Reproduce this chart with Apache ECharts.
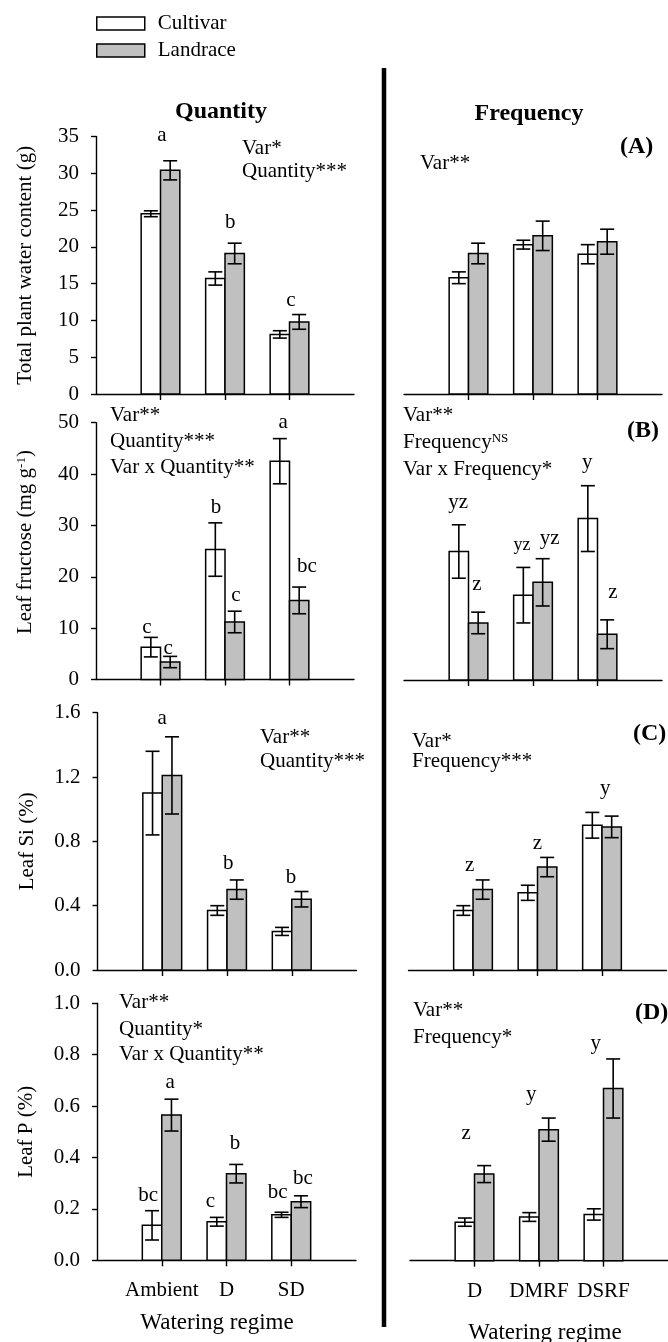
<!DOCTYPE html>
<html>
<head>
<meta charset="utf-8">
<title>Water regime effects on cultivar and landrace</title>
<script src="https://cdn.jsdelivr.net/npm/echarts@6/dist/echarts.min.js"></script>
<style>
  html, body { margin: 0; padding: 0; background: #fff; }
  #chart { width: 668px; height: 1342px; }
</style>
</head>
<body>
<div id="chart"></div>
<script>
// ---- categories ----
const QTY_REGIMES = ['Ambient', 'D', 'SD'];
const FREQ_REGIMES = ['D', 'DMRF', 'DSRF'];

// ---- (A) total plant water content, g ----
const waterQtyCultivar   = [24.5, 15.7, 8.1];
const waterQtyCultivarSE = [0.4, 0.9, 0.5];
const waterQtyLandrace   = [30.4, 19.1, 9.8];
const waterQtyLandraceSE = [1.3, 1.4, 1.0];
const waterFreqCultivar   = [15.8, 20.3, 19.0];
const waterFreqCultivarSE = [0.8, 0.6, 1.3];
const waterFreqLandrace   = [19.1, 21.5, 20.7];
const waterFreqLandraceSE = [1.4, 2.0, 1.7];

// ---- (B) leaf fructose, mg g-1 ----
const fruQtyCultivar   = [6.3, 25.3, 42.5];
const fruQtyCultivarSE = [1.9, 5.2, 4.4];
const fruQtyLandrace   = [3.4, 11.2, 15.4];
const fruQtyLandraceSE = [1.1, 2.1, 2.6];
const fruFreqCultivar   = [25.0, 16.5, 31.4];
const fruFreqCultivarSE = [5.2, 5.4, 6.4];
const fruFreqLandrace   = [11.1, 19.0, 8.9];
const fruFreqLandraceSE = [2.1, 4.6, 2.8];

// ---- (C) leaf Si, % ----
const siQtyCultivar   = [1.10, 0.37, 0.24];
const siQtyCultivarSE = [0.26, 0.03, 0.025];
const siQtyLandrace   = [1.21, 0.50, 0.44];
const siQtyLandraceSE = [0.24, 0.06, 0.048];
const siFreqCultivar   = [0.37, 0.48, 0.90];
const siFreqCultivarSE = [0.03, 0.047, 0.08];
const siFreqLandrace   = [0.50, 0.64, 0.89];
const siFreqLandraceSE = [0.06, 0.06, 0.067];

// ---- (D) leaf P, % ----
const pQtyCultivar   = [0.136, 0.150, 0.177];
const pQtyCultivarSE = [0.057, 0.017, 0.010];
const pQtyLandrace   = [0.565, 0.337, 0.228];
const pQtyLandraceSE = [0.062, 0.036, 0.023];
const pFreqCultivar   = [0.150, 0.170, 0.180];
const pFreqCultivarSE = [0.016, 0.017, 0.022];
const pFreqLandrace   = [0.337, 0.510, 0.670];
const pFreqLandraceSE = [0.033, 0.045, 0.115];

// ---- mean-separation letters ----
const waterQtyLetters = ['a', 'b', 'c'];
const fruQtyLetters   = ['c', 'c', 'b', 'c', 'a', 'bc'];
const fruFreqLetters  = ['yz', 'z', 'yz', 'yz', 'y', 'z'];
const siQtyLetters    = ['a', 'b', 'b'];
const siFreqLetters   = ['z', 'z', 'y'];
const pQtyLetters     = ['bc', 'a', 'c', 'b', 'bc', 'bc'];
const pFreqLetters    = ['z', 'y', 'y'];

// where each letter sits, in axis units [x, y]
const LETTER_SPOTS = {
  waterQty: [[0.02, 35.1], [1.08, 23.3], [2.02, 12.7]],
  fruQty:   [[-0.21, 10.2], [0.12, 6.1], [0.86, 33.4], [1.17, 16.3], [1.90, 50.1], [2.27, 22.1]],
  fruFreq:  [[-0.16, 34.5], [0.13, 18.5], [0.83, 26.3], [1.26, 27.6], [1.84, 42.3], [2.24, 17.1]],
  siQty:    [[0.0, 1.567], [1.02, 0.665], [1.99, 0.578]],
  siFreq:   [[-0.05, 0.653], [1.0, 0.784], [2.05, 1.126]],
  pQty:     [[-0.21, 0.254], [0.13, 0.69], [0.75, 0.227], [1.13, 0.456], [1.79, 0.262], [2.18, 0.32]],
  pFreq:    [[-0.13, 0.495], [0.88, 0.647], [1.88, 0.846]]
};
const LETTER_SIZE_OVERRIDE = { fruFreq: { 2: 18 } };

const SERIF = 'Liberation Serif';
const FS = 21;
const BAR_W = 0.30;      // bar width in category units
const CAP_HALF = 7;      // error-bar cap half width, px
const GREY = '#c0c0c0';

// panel layout: [left, top, width, height] in px
const PANELS = [
  { box: [96, 136.5, 258, 257.5], yMax: 35, yStep: 5, digits: 0, yName: 'Total plant water content (g)',
    cats: QTY_REGIMES, c: waterQtyCultivar, cSE: waterQtyCultivarSE, l: waterQtyLandrace, lSE: waterQtyLandraceSE,
    letters: waterQtyLetters, spots: 'waterQty', left: true, last: false },
  { box: [404, 136.5, 258, 257.5], yMax: 35, yStep: 5, digits: 0,
    cats: FREQ_REGIMES, c: waterFreqCultivar, cSE: waterFreqCultivarSE, l: waterFreqLandrace, lSE: waterFreqLandraceSE,
    letters: [], spots: null, left: false, last: false },
  { box: [96, 422.7, 258, 256.8], yMax: 50, yStep: 10, digits: 0, yName: 'Leaf fructose (mg g{sup|-1})',
    cats: QTY_REGIMES, c: fruQtyCultivar, cSE: fruQtyCultivarSE, l: fruQtyLandrace, lSE: fruQtyLandraceSE,
    letters: fruQtyLetters, spots: 'fruQty', left: true, last: false, namePad: [0, 0, 0, 18] },
  { box: [404, 423, 258, 257], yMax: 50, yStep: 10, digits: 0,
    cats: FREQ_REGIMES, c: fruFreqCultivar, cSE: fruFreqCultivarSE, l: fruFreqLandrace, lSE: fruFreqLandraceSE,
    letters: fruFreqLetters, spots: 'fruFreq', left: false, last: false },
  { box: [97.5, 712.7, 259, 257.3], yMax: 1.6, yStep: 0.4, digits: 1, yName: 'Leaf Si (%)',
    cats: QTY_REGIMES, c: siQtyCultivar, cSE: siQtyCultivarSE, l: siQtyLandrace, lSE: siQtyLandraceSE,
    letters: siQtyLetters, spots: 'siQty', left: true, last: false },
  { box: [408.5, 712.7, 258, 257.3], yMax: 1.6, yStep: 0.4, digits: 1,
    cats: FREQ_REGIMES, c: siFreqCultivar, cSE: siFreqCultivarSE, l: siFreqLandrace, lSE: siFreqLandraceSE,
    letters: siFreqLetters, spots: 'siFreq', left: false, last: false },
  { box: [97, 1003.3, 259, 257], yMax: 1.0, yStep: 0.2, digits: 1, yName: 'Leaf P (%)',
    cats: QTY_REGIMES, c: pQtyCultivar, cSE: pQtyCultivarSE, l: pQtyLandrace, lSE: pQtyLandraceSE,
    letters: pQtyLetters, spots: 'pQty', left: true, last: true },
  { box: [410, 1003.7, 258, 257], yMax: 1.0, yStep: 0.2, digits: 1,
    cats: FREQ_REGIMES, c: pFreqCultivar, cSE: pFreqCultivarSE, l: pFreqLandrace, lSE: pFreqLandraceSE,
    letters: pFreqLetters, spots: 'pFreq', left: false, last: true }
];

// bar + error bar drawn through the panel's own axes
function barItem(side, fill) {
  return function (params, api) {
    const x = api.value(0), v = api.value(1), e = api.value(2);
    const x0 = side < 0 ? x - BAR_W : x;
    const x1 = side < 0 ? x : x + BAR_W;
    const pBase = api.coord([x0, 0]);
    const pTop = api.coord([x1, v]);
    const cx = (pBase[0] + pTop[0]) / 2;
    const yHi = api.coord([x, v + e])[1];
    const yLo = api.coord([x, v - e])[1];
    const ln = { stroke: '#000', lineWidth: 1.6 };
    return {
      type: 'group',
      children: [
        { type: 'rect', shape: { x: pBase[0], y: pTop[1], width: pTop[0] - pBase[0], height: pBase[1] - pTop[1] },
          style: { fill: fill, stroke: '#000', lineWidth: 1.5 } },
        { type: 'line', shape: { x1: cx, y1: yHi, x2: cx, y2: yLo }, style: ln },
        { type: 'line', shape: { x1: cx - CAP_HALF, y1: yHi, x2: cx + CAP_HALF, y2: yHi }, style: ln },
        { type: 'line', shape: { x1: cx - CAP_HALF, y1: yLo, x2: cx + CAP_HALF, y2: yLo }, style: ln }
      ]
    };
  };
}

function letterItem(texts, sizes) {
  return function (params, api) {
    const p = api.coord([api.value(0), api.value(1)]);
    const size = (sizes && sizes[params.dataIndex]) || FS;
    return {
      type: 'text', x: p[0], y: p[1],
      style: { text: texts[params.dataIndex], fontFamily: SERIF, fontSize: size, fill: '#000',
               align: 'center', verticalAlign: 'middle', textAlign: 'center', textVerticalAlign: 'middle' }
    };
  };
}

const grids = [], xAxes = [], yAxes = [], series = [];
PANELS.forEach((p, i) => {
  grids.push({ left: p.box[0], top: p.box[1], width: p.box[2], height: p.box[3],
               containLabel: false, outerBoundsMode: 'none' });
  xAxes.push({
    type: 'value', gridIndex: i, min: -1, max: 3,
    splitLine: { show: false },
    axisLine: { show: true, onZero: false, lineStyle: { color: '#000', width: 1.4 } },
    axisTick: { show: true, inside: false, length: 6, customValues: [0, 1, 2], lineStyle: { color: '#000', width: 1.4 } },
    axisLabel: { show: p.last, customValues: [0, 1, 2], margin: 20,
                 formatter: v => p.cats[Math.round(v)] || '',
                 fontFamily: SERIF, fontSize: FS, color: '#000' }
  });
  const y = {
    type: 'value', gridIndex: i, min: 0, max: p.yMax, interval: p.yStep,
    splitLine: { show: false }
  };
  if (p.left) {
    Object.assign(y, {
      axisLine: { show: true, onZero: false, lineStyle: { color: '#000', width: 1.4 } },
      axisTick: { show: true, inside: false, length: 5, lineStyle: { color: '#000', width: 1.4 } },
      axisLabel: { show: true, margin: 17, fontFamily: SERIF, fontSize: FS, color: '#000',
                   showMinLabel: true, showMaxLabel: true,
                   formatter: v => v.toFixed(p.digits) },
      name: p.yName, nameLocation: 'middle', nameRotate: 90, nameGap: 60,
      nameMoveOverlap: false,
      nameTextStyle: { fontFamily: SERIF, fontSize: FS, color: '#000', padding: p.namePad || 0,
                       rich: { sup: { fontFamily: SERIF, fontSize: 13, verticalAlign: 'top', color: '#000' } } }
    });
  } else {
    Object.assign(y, { axisLine: { show: false, onZero: false }, axisTick: { show: false }, axisLabel: { show: false } });
  }
  yAxes.push(y);

  series.push({
    type: 'custom', name: 'Cultivar', xAxisIndex: i, yAxisIndex: i, clip: false,
    itemStyle: { color: '#fff', borderColor: '#000' },
    data: p.c.map((v, k) => [k, v, p.cSE[k]]),
    renderItem: barItem(-1, '#fff')
  });
  series.push({
    type: 'custom', name: 'Landrace', xAxisIndex: i, yAxisIndex: i, clip: false,
    itemStyle: { color: GREY, borderColor: '#000' },
    data: p.l.map((v, k) => [k, v, p.lSE[k]]),
    renderItem: barItem(1, GREY)
  });
  if (p.spots) {
    series.push({
      type: 'custom', xAxisIndex: i, yAxisIndex: i, clip: false, silent: true,
      data: LETTER_SPOTS[p.spots],
      renderItem: letterItem(p.letters, LETTER_SIZE_OVERRIDE[p.spots])
    });
  }
});

// free text: effect significance, headers and tags
function txt(x, y, text, opt) {
  opt = opt || {};
  return {
    type: 'text', x: x, y: y, silent: true,
    style: Object.assign({
      text: text, fontFamily: SERIF, fontSize: FS, fill: '#000',
      align: 'left', verticalAlign: 'middle', textAlign: 'left', textVerticalAlign: 'middle',
      rich: { sup: { fontFamily: SERIF, fontSize: 13, verticalAlign: 'top', fill: '#000' } }
    }, opt)
  };
}
const bold = { fontWeight: 'bold', fontSize: 24 };
const center = { align: 'center', textAlign: 'center' };

const graphics = [
  { type: 'line', silent: true, shape: { x1: 384, y1: 68, x2: 384, y2: 1327 },
    style: { stroke: '#000', lineWidth: 4.5 } },
  txt(221, 112, 'Quantity', Object.assign({}, bold, center)),
  txt(529, 113.5, 'Frequency', Object.assign({}, bold, center)),
  txt(620, 146.5, '(A)', bold),
  txt(627, 431, '(B)', bold),
  txt(633, 734, '(C)', bold),
  txt(635, 1013, '(D)', bold),

  txt(242, 148, 'Var*'),
  txt(242, 171, 'Quantity***'),
  txt(420, 163, 'Var**'),

  txt(110, 415, 'Var**'),
  txt(110, 441, 'Quantity***'),
  txt(110, 467, 'Var x Quantity**'),
  txt(403, 415, 'Var**'),
  txt(403, 442.5, 'Frequency{sup|NS}'),
  txt(403, 469, 'Var x Frequency*'),

  txt(260, 737.5, 'Var**'),
  txt(260, 761, 'Quantity***'),
  txt(412, 741.7, 'Var*'),
  txt(412, 761.7, 'Frequency***'),

  txt(119, 1002.5, 'Var**'),
  txt(119, 1029, 'Quantity*'),
  txt(119, 1054, 'Var x Quantity**'),
  txt(413, 1010.7, 'Var**'),
  txt(413, 1037, 'Frequency*'),

  txt(217, 1323, 'Watering regime', Object.assign({ fontSize: 23 }, center)),
  txt(545, 1333, 'Watering regime', Object.assign({ fontSize: 23 }, center))
];

const chart = echarts.init(document.getElementById('chart'), null, { renderer: 'canvas', width: 668, height: 1342 });
chart.setOption({
  animation: false,
  backgroundColor: '#fff',
  legend: {
    orient: 'vertical', left: 96, top: 13, padding: 0, itemWidth: 48, itemHeight: 13, itemGap: 6,
    icon: 'rect', selectedMode: false,
    textStyle: { fontFamily: SERIF, fontSize: FS, color: '#000', lineHeight: 21, padding: [0, 0, 0, 8] },
    data: [
      { name: 'Cultivar', icon: 'rect', itemStyle: { color: '#fff', borderColor: '#000', borderWidth: 1.5 } },
      { name: 'Landrace', icon: 'rect', itemStyle: { color: GREY, borderColor: '#000', borderWidth: 1.5 } }
    ]
  },
  grid: grids,
  xAxis: xAxes,
  yAxis: yAxes,
  series: series,
  graphic: graphics
});
</script>
</body>
</html>
